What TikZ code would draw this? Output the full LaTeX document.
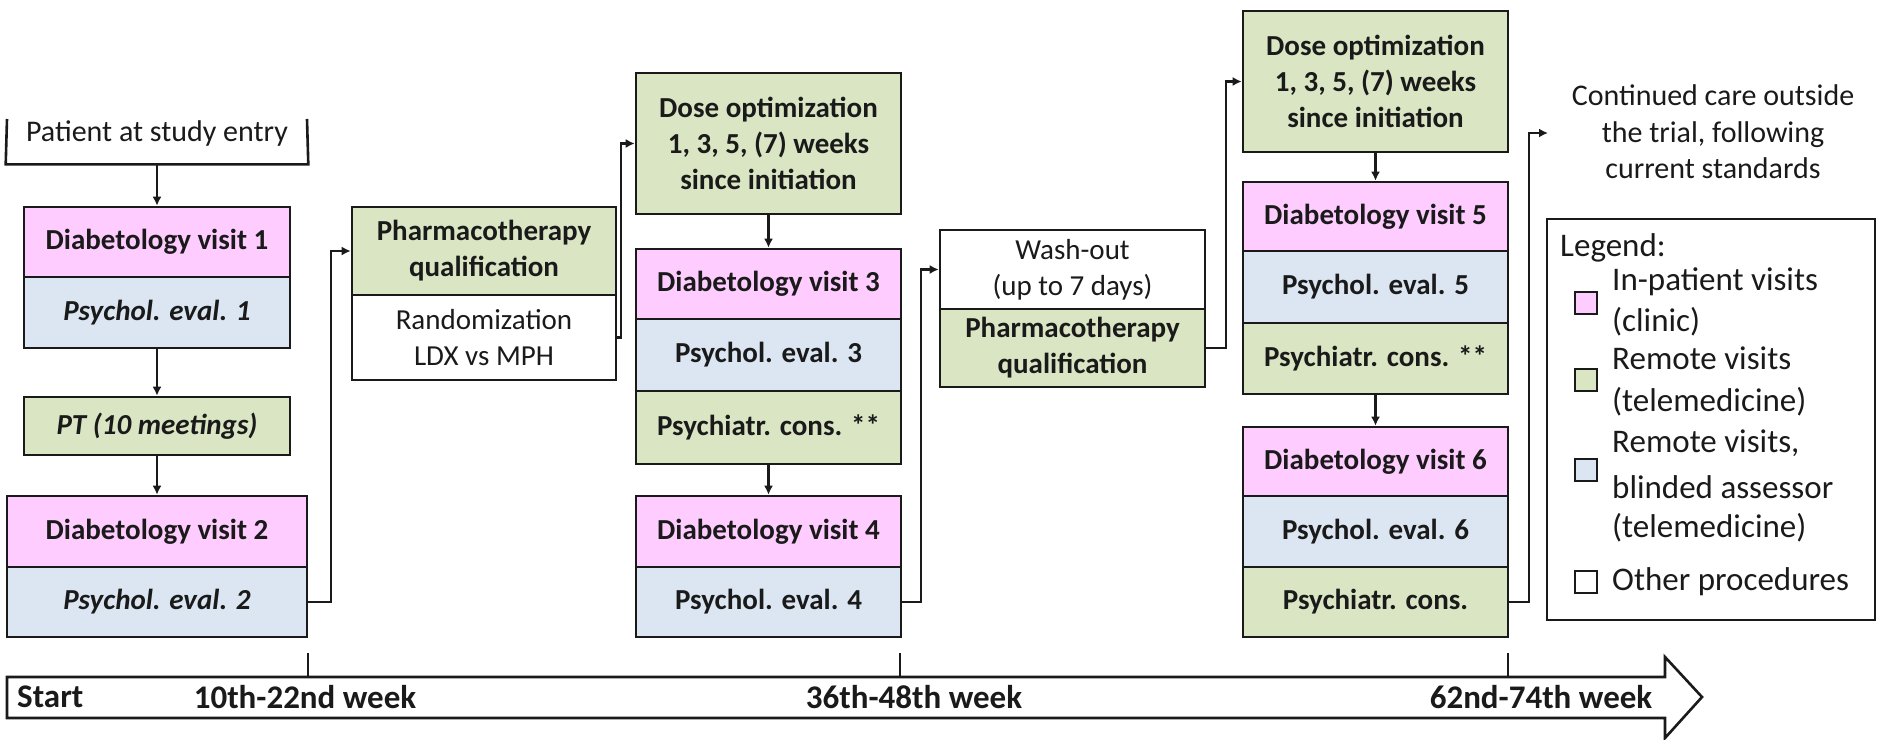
\documentclass[tikz,border=0pt]{standalone}
\usepackage{fontspec}
\setmainfont{Carlito}
\usetikzlibrary{arrows.meta}
\definecolor{pk}{HTML}{FFCCFF}
\definecolor{gr}{HTML}{D9E5C3}
\definecolor{bl}{HTML}{DCE6F2}
\definecolor{ink}{HTML}{1A1A1A}
\begin{document}
\begin{tikzpicture}[x=1pt,y=-1pt,
  bx/.style={draw=ink, line width=2.6pt, inner sep=0pt, align=center, text=ink,
    font=\fontsize{29}{36}\selectfont\bfseries},
  rg/.style={font=\fontsize{29}{36}\selectfont},
  it/.style={font=\fontsize{29}{36}\selectfont\bfseries\itshape},
  conn/.style={draw=ink, line width=2.2pt, -{Latex[length=9pt,width=9pt]}},
  lgsq/.style={draw=ink, line width=2pt, minimum width=22pt, minimum height=22pt, inner sep=0pt},
  lgtx/.style={anchor=west, inner sep=0pt, text=ink, font=\fontsize{33}{41}\selectfont},
  tl/.style={inner sep=0pt, text=ink, font=\fontsize{33}{40}\selectfont\bfseries}
]
\useasboundingbox (0,0) rectangle (1878,739);

% column 1
\node[bx, draw=none, rg, minimum width=300pt, minimum height=44pt] (pat) at (157,141) {};
\node[inner sep=0pt, text=ink, font=\fontsize{30}{36}\selectfont] (pattx) at (157,133) {Patient at study entry};
\draw[draw=ink, line width=2.6pt] (7,119) -- (pat.south west) -- (pat.south east) -- (307,119);
\node[bx, fill=pk, minimum width=266pt, minimum height=70pt] (dv1) at (157,242) {Diabetology visit 1};
\node[bx, it, fill=bl, minimum width=266pt, minimum height=71pt] (pe1) at (157,312.5) {Psychol. eval. 1};
\node[bx, it, fill=gr, minimum width=266pt, minimum height=58pt] (pt) at (157,426) {PT (10 meetings)};
\node[bx, fill=pk, minimum width=300pt, minimum height=71pt] (dv2) at (157,531.5) {Diabetology visit 2};
\node[bx, it, fill=bl, minimum width=300pt, minimum height=70pt] (pe2) at (157,602) {Psychol. eval. 2};

% column 2
\node[bx, fill=gr, minimum width=264pt, minimum height=88pt] (ph1) at (484,251) {Pharmacotherapy\\qualification};
\node[bx, rg, fill=white, minimum width=264pt, minimum height=85pt] (rnd) at (484,337.5) {Randomization\\LDX vs MPH};

% column 3
\node[bx, fill=gr, minimum width=265pt, minimum height=141pt] (do1) at (768.5,143.5) {Dose optimization\\1, 3, 5, (7) weeks\\since initiation};
\node[bx, fill=pk, minimum width=265pt, minimum height=70pt] (dv3) at (768.5,284) {Diabetology visit 3};
\node[bx, fill=bl, minimum width=265pt, minimum height=72pt] (pe3) at (768.5,355) {Psychol. eval. 3};
\node[bx, fill=gr, minimum width=265pt, minimum height=73pt] (pc3) at (768.5,427.5) {Psychiatr. cons. **};
\node[bx, fill=pk, minimum width=265pt, minimum height=71pt] (dv4) at (768.5,531.5) {Diabetology visit 4};
\node[bx, fill=bl, minimum width=265pt, minimum height=70pt] (pe4) at (768.5,602) {Psychol. eval. 4};

% column 4
\node[bx, rg, fill=white, minimum width=265pt, minimum height=79pt] (wo) at (1072.5,269.5) {Wash-out\\(up to 7 days)};
\node[bx, fill=gr, minimum width=265pt, minimum height=78pt] (ph2) at (1072.5,348) {Pharmacotherapy\\qualification};

% column 5
\node[bx, fill=gr, minimum width=265pt, minimum height=141pt] (do2) at (1375.5,81.5) {Dose optimization\\1, 3, 5, (7) weeks\\since initiation};
\node[bx, fill=pk, minimum width=265pt, minimum height=69pt] (dv5) at (1375.5,216.5) {Diabetology visit 5};
\node[bx, fill=bl, minimum width=265pt, minimum height=72pt] (pe5) at (1375.5,287) {Psychol. eval. 5};
\node[bx, fill=gr, minimum width=265pt, minimum height=71pt] (pc5) at (1375.5,358.5) {Psychiatr. cons. **};
\node[bx, fill=pk, minimum width=265pt, minimum height=69pt] (dv6) at (1375.5,461.5) {Diabetology visit 6};
\node[bx, fill=bl, minimum width=265pt, minimum height=71pt] (pe6) at (1375.5,531.5) {Psychol. eval. 6};
\node[bx, fill=gr, minimum width=265pt, minimum height=70pt] (pc6) at (1375.5,602) {Psychiatr. cons.};

% continued care
\node[inner sep=0pt, align=center, text=ink, font=\fontsize{30}{36.5}\selectfont] (cont) at (1713,132) {Continued care outside\\the trial, following\\current standards};
\coordinate (contin) at (1548,133);

% connectors
\draw[conn] (pat.south) -- (dv1.north);
\draw[conn] (pe1.south) -- (pt.north);
\draw[conn] (pt.south) -- (dv2.north);
\draw[conn] (pe2.east) -- ++(23,0) |- (ph1.west);
\draw[conn] (rnd.east) -- ++(4,0) |- (do1.west);
\draw[conn] (do1.south) -- (dv3.north);
\draw[conn] (pc3.south) -- (dv4.north);
\draw[conn] (pe4.east) -- ++(19,0) |- (wo.west);
\draw[conn] (ph2.east) -- ++(20,0) |- (do2.west);
\draw[conn] (do2.south) -- (dv5.north);
\draw[conn] (pc5.south) -- (dv6.north);
\draw[conn] (pc6.east) -- ++(20,0) |- (contin);

% legend
\node[draw=ink, line width=2.6pt, minimum width=328pt, minimum height=401pt, inner sep=0pt] (leg) at (1711,419.5) {};
\node[lgtx] (legt) at (1560,248) {Legend:};
\node[lgsq, fill=pk] (sq1) at (1585.5,303) {};
\node[lgtx] (l1a) at (1612,282) {In-patient visits};
\node[lgtx] (l1b) at (1612,322) {(clinic)};
\node[lgsq, fill=gr] (sq2) at (1585.5,380) {};
\node[lgtx] (l2a) at (1612,358) {Remote visits};
\node[lgtx] (l2b) at (1612,402) {(telemedicine)};
\node[lgsq, fill=bl] (sq3) at (1585.5,470) {};
\node[lgtx] (l3a) at (1612,443) {Remote visits,};
\node[lgtx] (l3b) at (1612,487) {blinded assessor};
\node[lgtx] (l3c) at (1612,528) {(telemedicine)};
\node[lgsq, fill=white] (sq4) at (1585.5,582) {};
\node[lgtx] (l4) at (1612,582) {Other procedures};

% timeline
\draw[draw=ink, line width=2.6pt, fill=white] (7,677) -- (1665,677) -- (1665,657) -- (1702,697) -- (1665,738) -- (1665,718) -- (7,718) -- cycle;
\draw[draw=ink, line width=2.6pt] (308,653) -- (308,677);
\draw[draw=ink, line width=2.6pt] (900,653) -- (900,677);
\draw[draw=ink, line width=2.6pt] (1508,653) -- (1508,677);
\node[tl, anchor=west] (t0) at (17,697) {Start};
\node[tl] (t1) at (305,697) {10th-22nd week};
\node[tl] (t2) at (914,697) {36th-48th week};
\node[tl] (t3) at (1541,697) {62nd-74th week};
\end{tikzpicture}
\end{document}
